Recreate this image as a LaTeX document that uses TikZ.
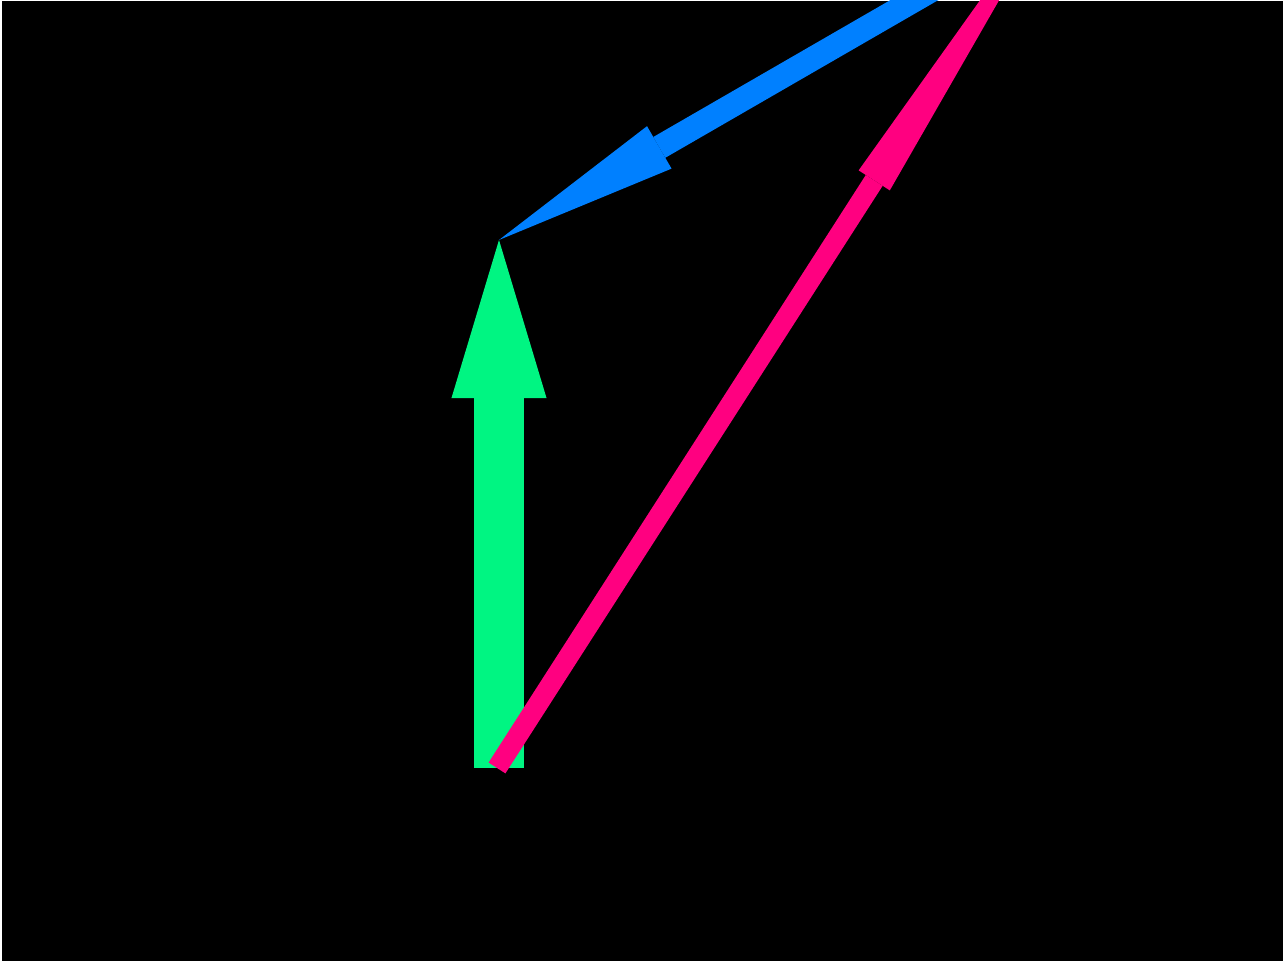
\documentclass[tikz,border=0pt]{standalone}
\usetikzlibrary{arrows.meta}
\definecolor{vecgreen}{RGB}{0,245,130}
\definecolor{vecblue}{RGB}{0,128,255}
\definecolor{vecpink}{RGB}{255,0,128}
\begin{document}
\begin{tikzpicture}[x=0.01cm, y=0.01cm]
        % Frame and black background
        \useasboundingbox (0,0) rectangle (1284,962);
        \fill[white] (0,0) rectangle (1284,962);
        \fill[black] (2,1) rectangle (1283,961);
        \clip (2,1) rectangle (1283,961);

        % End points of the vectors
        \coordinate (origin) at (499,194);
        \coordinate (top) at (499,722);
        \coordinate (blueTail) at (1105,1072);
        \coordinate (pinkStart) at (497,194);
        \coordinate (pinkTip) at (1078,1099);

        % Vertical vector
        \draw[vecgreen, line width=0.50cm, -{Triangle[length=1.58cm, width=0.95cm, line width=0pt]}] (origin) -- (top);

        % Vector coming down to the top of the vertical one
        \draw[vecblue, line width=0.24cm, -{Triangle[length=1.85cm, width=0.49cm, line width=0pt]}] (blueTail) -- (top);

        % Resultant
        \draw[vecpink, line width=0.20cm, -{Triangle[length=3.77cm, width=0.37cm, line width=0pt]}] (pinkStart) -- (pinkTip);

    \end{tikzpicture}
\end{document}
